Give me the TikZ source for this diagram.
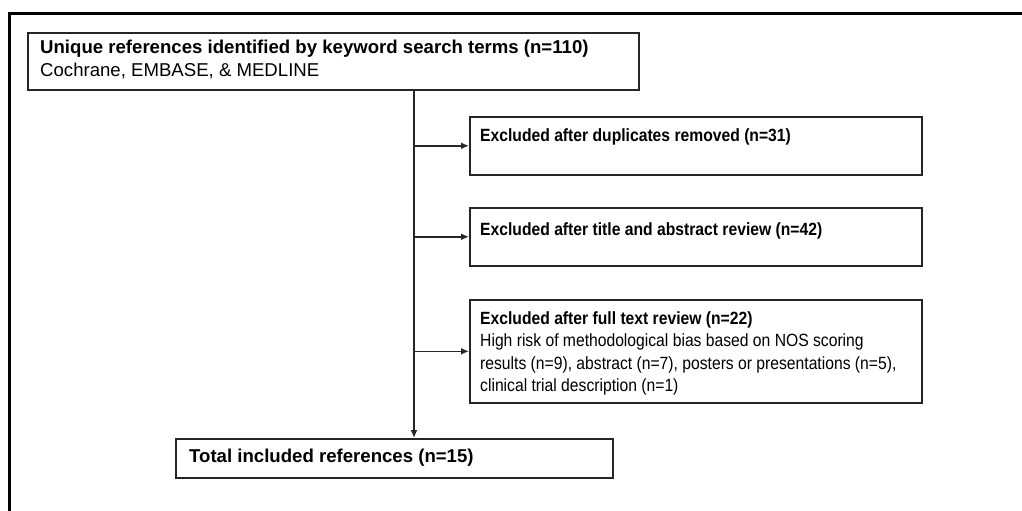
\documentclass[tikz,border=0pt]{standalone}
\usepackage{fontspec}
\setmainfont{Liberation Sans}
\newfontfamily\narrowfont[FakeStretch=0.886]{Liberation Sans}
\usetikzlibrary{arrows.meta,calc}
\begin{document}
\begin{tikzpicture}[x=1pt,y=-1pt,
  box/.style={draw=black!85,line width=1.6pt,rectangle,inner sep=0pt,anchor=north west},
  txt/.style={anchor=base west,inner sep=0pt,align=left,font=\fontsize{18.6}{22.5}\selectfont},
  ntxt/.style={anchor=base west,inner sep=0pt,align=left,font=\narrowfont\fontsize{17.7}{22.5}\selectfont},
  conn/.style={draw=black!85,line width=1.6pt},
  arr/.style={conn,-{Latex[length=8pt,width=7pt]}}]
\useasboundingbox (0,0) rectangle (1022,511);
\fill[white] (0,0) rectangle (1022,511);
% outer frame
\draw[line width=3pt] (9,511) -- (9,14) -- (1022,14);
% boxes
\node[box,minimum width=611pt,minimum height=57pt] (top) at (27,32) {};
\node[box,minimum width=452pt,minimum height=58pt] (b1) at (469,116) {};
\node[box,minimum width=452pt,minimum height=58pt] (b2) at (469,207) {};
\node[box,minimum width=452pt,minimum height=103pt] (b3) at (469,299) {};
\node[box,minimum width=437pt,minimum height=39pt] (bot) at (175,438) {};
% texts (base anchor = baseline of the last line)
\node[txt] (ttop) at (40,76.5) {\textbf{Unique references identified by keyword search terms (n=110)}\\Cochrane, EMBASE, \& MEDLINE};
\node[ntxt] (t1) at (480,141) {\textbf{Excluded after duplicates removed (n=31)}};
\node[ntxt] (t2) at (480,235) {\textbf{Excluded after title and abstract review (n=42)}};
\node[ntxt] (t3) at (480,391.5) {\textbf{Excluded after full text review (n=22)}\\High risk of methodological bias based on NOS scoring\\results (n=9), abstract (n=7), posters or presentations (n=5),\\clinical trial description (n=1)};
\node[txt] (tbot) at (189,462) {\textbf{Total included references (n=15)}};
% connectors
\coordinate (v) at (414,0);
\draw[arr] (top.south -| v) -- (bot.north -| v);
\draw[arr] (b1.west -| v) -- (b1.west);
\draw[arr] (b2.west -| v) -- (b2.west);
\draw[arr] (b3.west -| v) -- (b3.west);
\end{tikzpicture}
\end{document}
